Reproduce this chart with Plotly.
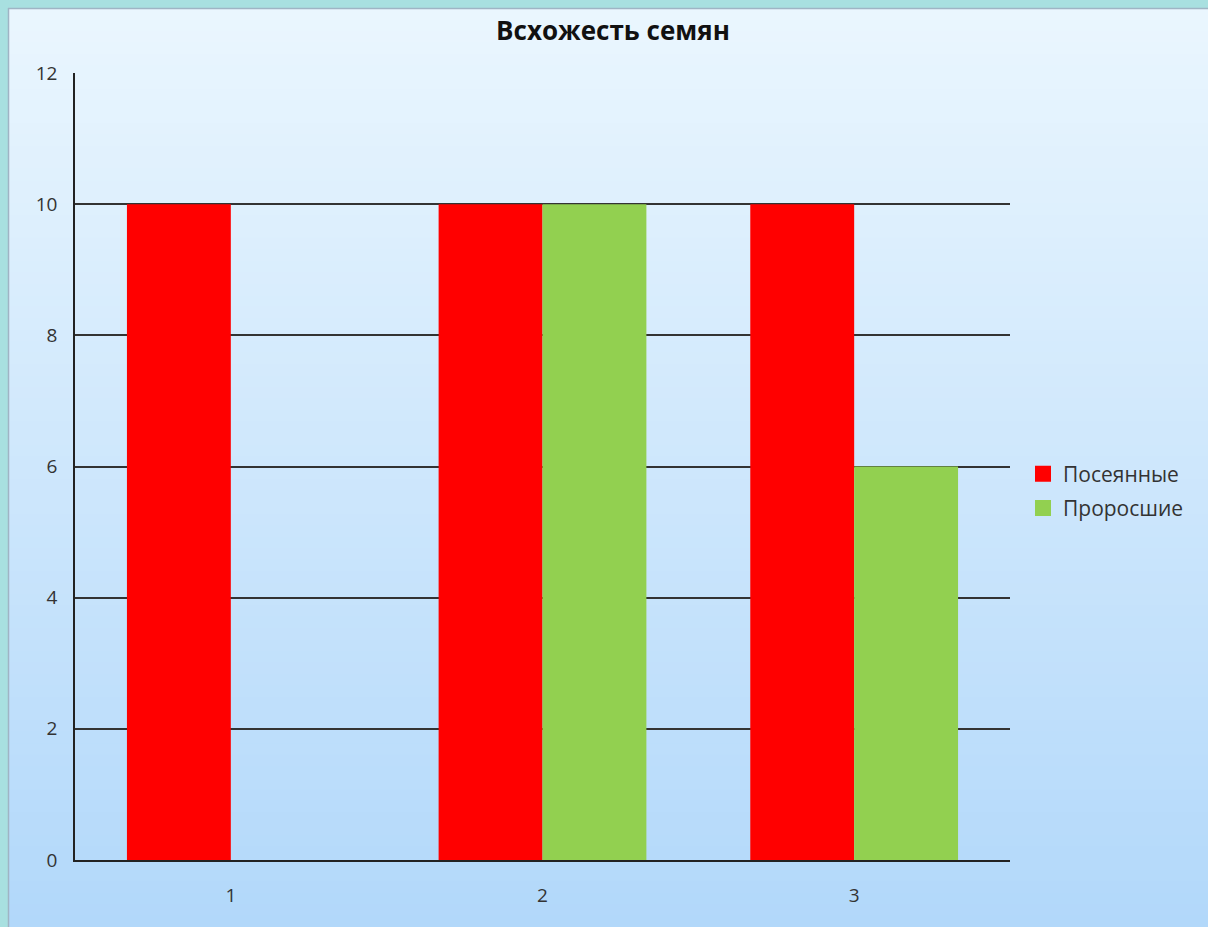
import plotly.graph_objects as go

categories = ["1", "2", "3"]
sown = [10, 10, 10]
sprouted = [0, 10, 6]
series_names = ["Посеянные", "Проросшие"]
series_colors = ["#ff0000", "#92d050"]
title_text = "Всхожесть семян"

W, H = 1208, 927
L, R, T, B = 75, 198, 73, 67
PW, PH = W - L - R, H - T - B

def px(x):
    return (x - L) / PW

def py(y):
    return (H - B - y) / PH

fig = go.Figure()
for vals, name, col in zip([sown, sprouted], series_names, series_colors):
    fig.add_trace(go.Bar(x=categories, y=vals, name=name, legendgroup=name, showlegend=False,
                         marker=dict(color=col, line=dict(width=0))))
# legend entries with larger square swatches
for name, col in zip(series_names, series_colors):
    fig.add_trace(go.Scatter(x=[None], y=[None], mode="markers", name=name, legendgroup=name,
                             marker=dict(symbol="square", size=16, color=col), hoverinfo="skip"))

shapes = []
# vertical gradient background
top_c = (234, 246, 254)
bot_c = (178, 216, 250)
n = 80
for i in range(n):
    y0 = 8 + (H - 8) * i / n
    y1 = 8 + (H - 8) * (i + 1) / n + 1
    t = i / (n - 1)
    c = tuple(round(top_c[k] + (bot_c[k] - top_c[k]) * t) for k in range(3))
    shapes.append(dict(type="rect", xref="paper", yref="paper", x0=px(8), x1=px(W + 2), y0=py(min(y1, H + 2)), y1=py(y0),
                       fillcolor="rgb(%d,%d,%d)" % c, line=dict(width=0), layer="below"))
# teal frame (top and left)
shapes.append(dict(type="rect", xref="paper", yref="paper", x0=px(-2), x1=px(W + 2), y0=py(8), y1=py(-2),
                   fillcolor="#a8e0e0", line=dict(width=0), layer="below"))
shapes.append(dict(type="rect", xref="paper", yref="paper", x0=px(-2), x1=px(8), y0=py(H + 2), y1=py(-2),
                   fillcolor="#a8e0e0", line=dict(width=0), layer="below"))
shapes.append(dict(type="line", xref="paper", yref="paper", x0=px(8), x1=px(W + 2), y0=py(8.5), y1=py(8.5),
                   line=dict(color="#9fb4c4", width=1.5), layer="below"))
shapes.append(dict(type="line", xref="paper", yref="paper", x0=px(8.5), x1=px(8.5), y0=py(H + 2), y1=py(8),
                   line=dict(color="#9fb4c4", width=1.5), layer="below"))

font = "Open Sans, Noto Sans, sans-serif"
fig.update_layout(
    width=W, height=H,
    margin=dict(l=L, r=R, t=T, b=B),
    paper_bgcolor="#c8e2fa",
    plot_bgcolor="rgba(0,0,0,0)",
    barmode="group", bargap=1/3, bargroupgap=0,
    shapes=shapes,
    font=dict(family=font, size=19, color="#333333"),
    title=dict(text="<b>" + title_text + "</b>", x=613 / W, xref="container", xanchor="center",
               y=1 - 31 / H, yref="container", yanchor="middle", font=dict(size=26, color="#111111")),
    legend=dict(x=px(1023), xanchor="left", y=py(491), yanchor="middle",
                bgcolor="rgba(0,0,0,0)", font=dict(size=21, color="#333333"),
                itemwidth=30, tracegroupgap=4),
    xaxis=dict(showline=True, linecolor="#222222", linewidth=1.5, showgrid=False,
               ticks="", ticklabelstandoff=17, tickfont=dict(size=19)),
    yaxis=dict(range=[0, 12], dtick=2, showline=True, linecolor="#222222", linewidth=1.5,
               showgrid=True, gridcolor="#333333", gridwidth=1.5, zeroline=False,
               ticks="", ticklabelstandoff=12, tickfont=dict(size=19)),
)
fig.write_html("out.html", config={"displayModeBar": False},
               post_script="document.body.style.margin='0';document.body.style.overflow='hidden';")
